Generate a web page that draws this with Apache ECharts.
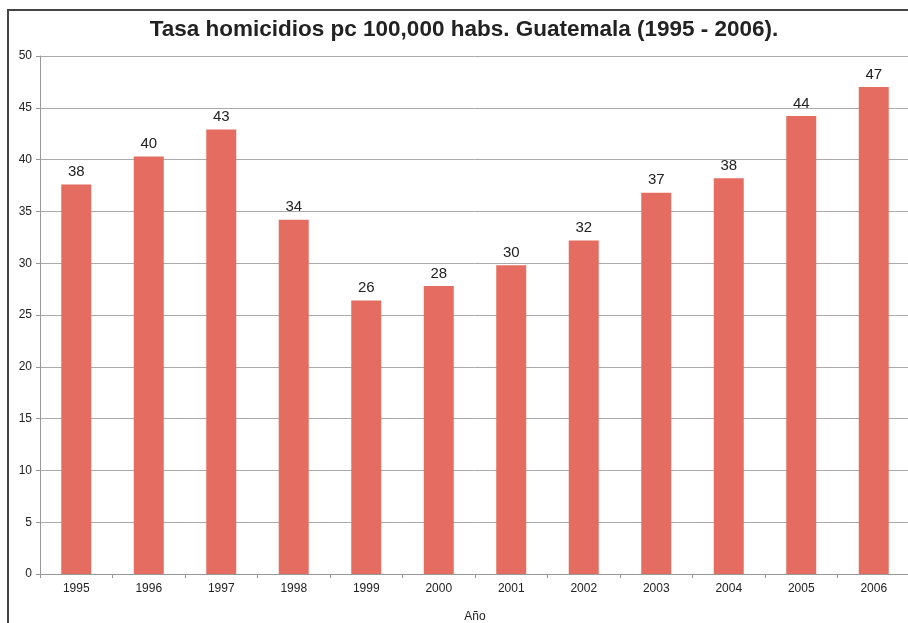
<!DOCTYPE html>
<html>
<head>
<meta charset="utf-8">
<script src="https://cdn.jsdelivr.net/npm/echarts@6/dist/echarts.min.js"></script>
<style>html,body{margin:0;padding:0;background:#fff;}#c{width:908px;height:623px;}</style>
</head>
<body>
<div id="c"></div>
<script>
const titleText = 'Tasa homicidios pc 100,000 habs. Guatemala (1995 - 2006).';
const categories = ['1995','1996','1997','1998','1999','2000','2001','2002','2003','2004','2005','2006'];
const rates = [37.6, 40.3, 42.9, 34.2, 26.4, 27.8, 29.8, 32.2, 36.8, 38.2, 44.2, 47.0];
const xAxisName = 'Año';

const chart = echarts.init(document.getElementById('c'), null, {renderer: 'canvas'});
chart.setOption({
  animation: false,
  backgroundColor: '#fff',
  textStyle: {fontFamily: 'Liberation Sans, Arial, sans-serif'},
  title: {
    text: titleText,
    left: 459, top: 13, textAlign: 'center',
    textStyle: {fontSize: 22.5, fontWeight: 'bold', color: '#222', fontFamily: 'Liberation Sans, Arial, sans-serif'}
  },
  graphic: [{
    type: 'rect', silent: true, z: 100,
    shape: {x: 8, y: 10, width: 920, height: 640},
    style: {fill: null, stroke: '#444', lineWidth: 2}
  }],
  grid: {left: 40, right: -2, top: 56, bottom: 49, containLabel: false, outerBoundsMode: 'none'},
  xAxis: {
    type: 'category', data: categories,
    name: xAxisName, nameLocation: 'middle', nameGap: 37,
    nameTextStyle: {fontSize: 12, color: '#222'},
    axisLine: {lineStyle: {color: '#999', width: 1}},
    axisTick: {show: true, length: 4, lineStyle: {color: '#999'}},
    axisLabel: {fontSize: 12, color: '#222', margin: 9}
  },
  yAxis: {
    type: 'value', min: 0, max: 50, interval: 5,
    axisLine: {show: true, lineStyle: {color: '#999', width: 1}},
    axisTick: {show: true, length: 4, lineStyle: {color: '#999'}},
    axisLabel: {fontSize: 12, color: '#222', margin: 8},
    splitLine: {lineStyle: {color: '#aaa', width: 1}}
  },
  series: [{
    type: 'bar', data: rates, barWidth: 30,
    itemStyle: {color: '#E46C60'},
    label: {show: true, position: 'top', distance: 5, fontSize: 15, color: '#222',
      formatter: p => Math.round(p.value)}
  }]
});
</script>
</body>
</html>
